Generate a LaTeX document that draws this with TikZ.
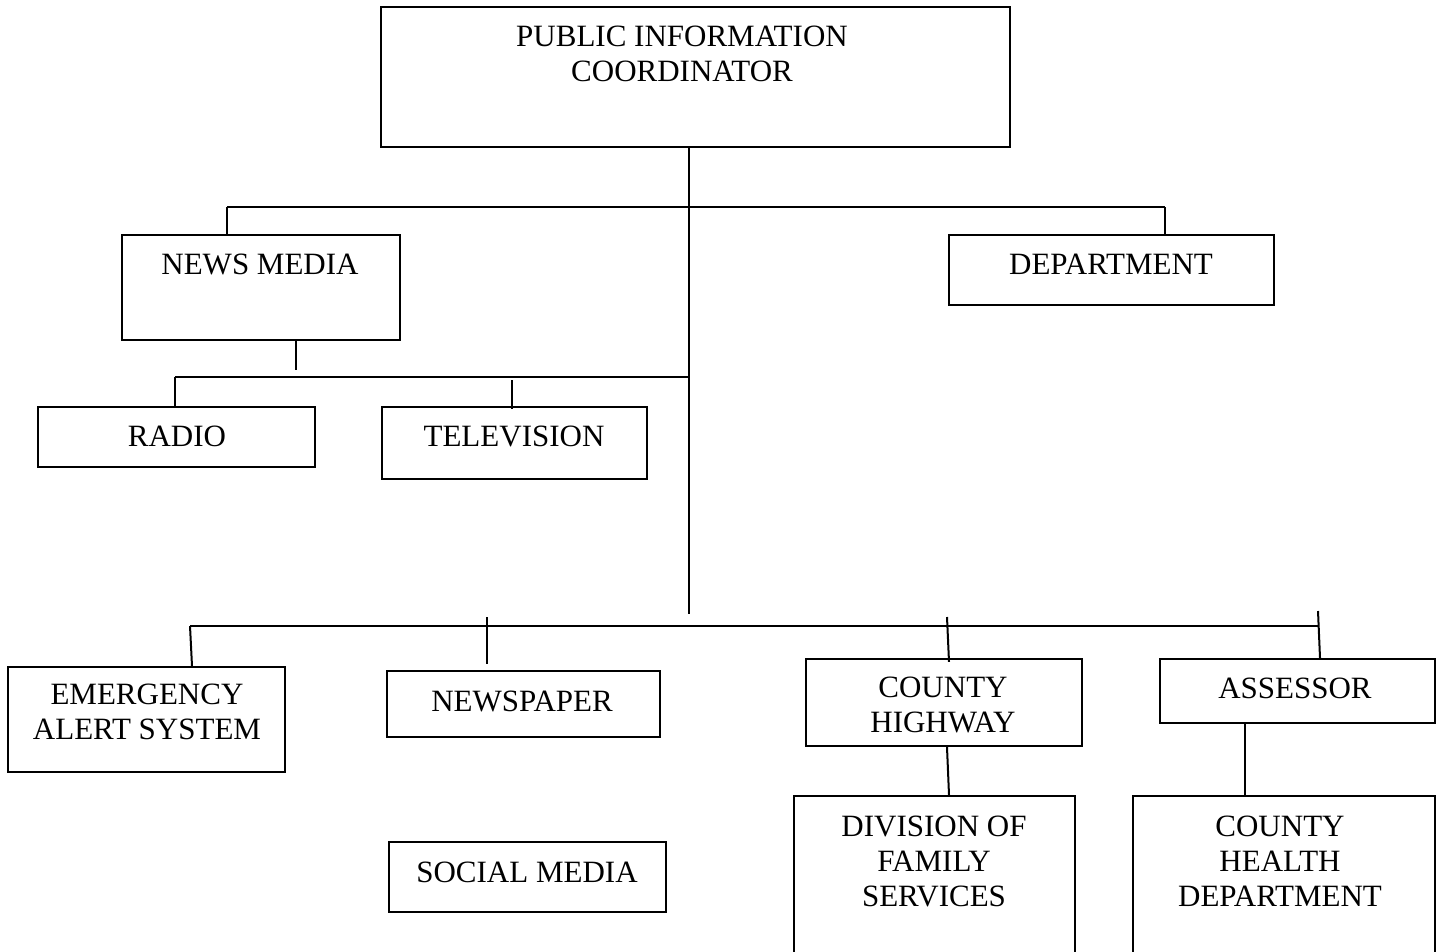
\documentclass[tikz,border=0pt]{standalone}
\usepackage{fontspec}
\setmainfont{Liberation Serif}
\begin{document}
\begin{tikzpicture}[x=1pt,y=-1pt,
  box/.style={draw, line width=2.2pt, inner sep=0pt, rectangle},
  lbl/.style={align=center, inner sep=0pt, font=\fontsize{31}{35}\selectfont},
  wire/.style={line width=2pt}]
\useasboundingbox (0,0) rectangle (1437,951);

% boxes
\node[box, minimum width=629, minimum height=140] (pic) at (695.5,77) {};
\node[box, minimum width=278, minimum height=105] (news) at (261,287.5) {};
\node[box, minimum width=325, minimum height=70] (dept) at (1111.5,270) {};
\node[box, minimum width=277, minimum height=60] (radio) at (176.5,437) {};
\node[box, minimum width=265, minimum height=72] (tv) at (514.5,443) {};
\node[box, minimum width=277, minimum height=105] (eas) at (146.5,719.5) {};
\node[box, minimum width=273, minimum height=66] (paper) at (523.5,704) {};
\node[box, minimum width=276, minimum height=87] (hwy) at (944,702.5) {};
\node[box, minimum width=275, minimum height=64] (assr) at (1297.5,691) {};
\node[box, minimum width=281, minimum height=170] (dfs) at (934.5,881) {};
\node[box, minimum width=302, minimum height=170] (chd) at (1284,881) {};
\node[box, minimum width=277, minimum height=70] (social) at (527.5,877) {};

% labels
\node[lbl] (tpic) at (682,53.5) {PUBLIC INFORMATION\\COORDINATOR};
\node[lbl] (tnews) at (260,264) {NEWS MEDIA};
\node[lbl] (tdept) at (1111,264) {DEPARTMENT};
\node[lbl] (tradio) at (177,436) {RADIO};
\node[lbl] (ttv) at (514,436) {TELEVISION};
\node[lbl] (teas) at (147,712) {EMERGENCY\\ALERT SYSTEM};
\node[lbl] (tpaper) at (522,701) {NEWSPAPER};
\node[lbl] (thwy) at (943,705) {COUNTY\\HIGHWAY};
\node[lbl] (tassr) at (1295,688) {ASSESSOR};
\node[lbl] (tdfs) at (934,861) {DIVISION OF\\FAMILY\\SERVICES};
\node[lbl] (tchd) at (1280,861) {COUNTY\\HEALTH\\DEPARTMENT};
\node[lbl] (tsocial) at (527,872) {SOCIAL MEDIA};

% junction points
\coordinate (trunkend) at (689,614);
\coordinate (busA) at (689,207);
\coordinate (busAl) at (227,207);
\coordinate (busAr) at (1165,207);
\coordinate (busB) at (689,377);
\coordinate (busBl) at (175,377);
\coordinate (newsstub) at (296,370);
\coordinate (tvstub) at (512,380);
\coordinate (busCl) at (190,626);
\coordinate (busCr) at (1318,626);
\coordinate (paperstub) at (487,617);
\coordinate (hwystub) at (947,617);
\coordinate (assrstub) at (1318,611);

% connectors
\draw[wire] (pic.south -| busA) -- (trunkend);
\draw[wire] (busAl) -- (busAr);
\draw[wire] (busAl) -- (busAl |- news.north);
\draw[wire] (busAr) -- (busAr |- dept.north);
\draw[wire] (news.south -| newsstub) -- (newsstub);
\draw[wire] (busBl) -- (busB);
\draw[wire] (busBl) -- (busBl |- radio.north);
\draw[wire] (tvstub) -- ([yshift=-3]tvstub |- tv.north);
\draw[wire] (busCl) -- (busCr);
\draw[wire] (busCl) -- ([xshift=2]busCl |- eas.north);
\draw[wire] (paperstub) -- ([yshift=6]paperstub |- paper.north);
\draw[wire] (hwystub) -- ([xshift=2,yshift=-4]hwystub |- hwy.north);
\draw[wire] (assrstub) -- ([xshift=2]assrstub |- assr.north);
\draw[wire] (hwy.south -| hwystub) -- ([xshift=2]hwystub |- dfs.north);
\draw[wire] (1245,722) coordinate (chdstub) -- (chdstub |- chd.north);
\end{tikzpicture}
\end{document}
